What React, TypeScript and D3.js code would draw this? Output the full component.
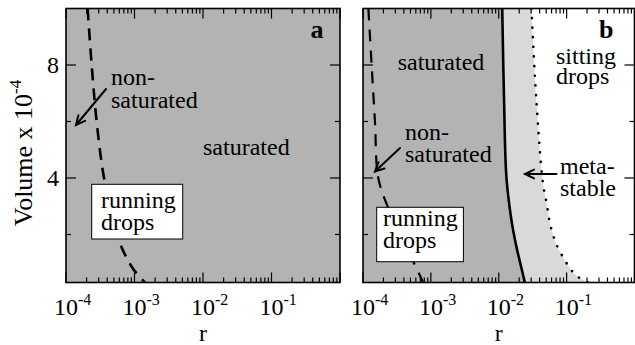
import * as d3 from 'd3'

// ---- data (r on log axis, volume x 1e-4) ----
const decades = [1e-4, 1e-3, 1e-2, 1e-1, 1]
const decadeExp = [-4, -3, -2, -1]
const minorMult = [2, 3, 4, 5, 6, 7, 8, 9]
const yMajor = [4, 8]
const yMinor = [2, 6]

// panel a: non-saturated boundary (dashed)
const aDashV = [10, 8, 6, 4, 2, 0.86, 0.3]
const aDashR = [2.07e-4, 2.37e-4, 2.8e-4, 3.59e-4, 5.5e-4, 9.1e-4, 1.42e-3]

// panel b: non-saturated boundary (dashed)
const bDashV = [10, 8, 6, 4, 2.93, 2, 1.04, 0.3]
const bDashR = [1.2e-4, 1.34e-4, 1.5e-4, 1.68e-4, 2.36e-4, 3.55e-4, 5.5e-4, 7.7e-4]

// panel b: saturated / metastable boundary (solid)
const bSolidV = [10, 6.76, 4, 2.51, 1.57, 0.42, 0.3]
const bSolidR = [0.01125, 0.01197, 0.013, 0.01538, 0.0182, 0.0236, 0.0241]

// panel b: metastable / sitting drops boundary (dotted)
const bDotV = [10, 6.76, 3.82, 3.04, 2.33, 1.66, 1.04, 0.74, 0.5, 0.3]
const bDotR = [0.0303, 0.0358, 0.0448, 0.0513, 0.0575, 0.0706, 0.0967, 0.117, 0.147, 0.205]

const W = 635, H = 345
const TOP = 8.5, BOTTOM = 282.5
const FONT = "'Liberation Serif', 'DejaVu Serif', 'Times New Roman', serif"
const DARK = '#b3b3b3'
const LIGHT = '#d9d9d9'

type Pt = [number, number]
const zip = (r: number[], v: number[]): Pt[] => r.map((d, i) => [d, v[i]])

function Arrow({ x1, y1, x2, y2 }: { x1: number; y1: number; x2: number; y2: number }) {
  const a = Math.atan2(y2 - y1, x2 - x1)
  const L = 10, s = 0.45
  const p1 = [x2 - L * Math.cos(a - s), y2 - L * Math.sin(a - s)]
  const p2 = [x2 - L * Math.cos(a + s), y2 - L * Math.sin(a + s)]
  return (
    <g stroke="#000" strokeWidth={2} fill="none" strokeLinecap="round">
      <line x1={x1} y1={y1} x2={x2} y2={y2} />
      <polyline points={`${p1[0]},${p1[1]} ${x2},${y2} ${p2[0]},${p2[1]}`} />
    </g>
  )
}

function Panel({ id, left, right, children, fills }: {
  id: string; left: number; right: number
  children: (x: d3.ScaleLogarithmic<number, number>, y: d3.ScaleLinear<number, number>) => any
  fills: (x: d3.ScaleLogarithmic<number, number>, y: d3.ScaleLinear<number, number>) => any
}) {
  const x = d3.scaleLog().domain([1e-4, 1]).range([left, right])
  const y = d3.scaleLinear().domain([0.3, 10]).range([BOTTOM, TOP])
  const minors = decades.slice(0, 4).flatMap(d => minorMult.map(m => d * m))
  return (
    <g>
      <defs>
        <clipPath id={`clip-${id}`}>
          <rect x={left} y={TOP} width={right - left} height={BOTTOM - TOP} />
        </clipPath>
      </defs>
      <g clipPath={`url(#clip-${id})`}>
        {fills(x, y)}
        {children(x, y)}
      </g>
      <g stroke="#000" strokeWidth={1.2}>
        {decades.map(d => (
          <g key={d}>
            <line x1={x(d)} x2={x(d)} y1={BOTTOM} y2={BOTTOM - 10} />
            <line x1={x(d)} x2={x(d)} y1={TOP} y2={TOP + 10} />
          </g>
        ))}
        {minors.map(d => (
          <g key={d}>
            <line x1={x(d)} x2={x(d)} y1={BOTTOM} y2={BOTTOM - 5} />
            <line x1={x(d)} x2={x(d)} y1={TOP} y2={TOP + 5} />
          </g>
        ))}
        {yMajor.map(v => (
          <g key={v}>
            <line x1={left} x2={left + 10} y1={y(v)} y2={y(v)} />
            <line x1={right} x2={right - 10} y1={y(v)} y2={y(v)} />
          </g>
        ))}
        {yMinor.map(v => (
          <g key={v}>
            <line x1={left} x2={left + 5} y1={y(v)} y2={y(v)} />
            <line x1={right} x2={right - 5} y1={y(v)} y2={y(v)} />
          </g>
        ))}
      </g>
      <rect x={left} y={TOP} width={right - left} height={BOTTOM - TOP} fill="none" stroke="#000" strokeWidth={1.6} />
      {decadeExp.map(e => (
        <text key={e} x={x(Math.pow(10, e)) - 12} y={315} fontSize={24}>
          10<tspan dy={-10} fontSize={16}>{`-${-e}`}</tspan>
        </text>
      ))}
      <text x={(left + right) / 2} y={341} fontSize={24} textAnchor="middle">r</text>
    </g>
  )
}

export default function App() {
  const line = (x: any, y: any) =>
    d3.line<Pt>().x(d => x(d[0])).y(d => y(d[1])).curve(d3.curveCatmullRom)
  const yAxis = d3.scaleLinear().domain([0.3, 10]).range([BOTTOM, TOP])

  return (
    <svg width={W} height={H}
      style={{ position: 'absolute', left: 0, top: 0, background: '#fff', fontFamily: FONT }}>
      {/* panel a */}
      <Panel id="a" left={66} right={340}
        fills={(x) => <rect x={x.range()[0]} y={TOP} width={x.range()[1] - x.range()[0]} height={BOTTOM - TOP} fill={DARK} />}>
        {(x, y) => (
          <path d={line(x, y)(zip(aDashR, aDashV)) ?? ''} fill="none" stroke="#000"
            strokeWidth={2.6} strokeDasharray="12,8" />
        )}
      </Panel>
      {yMajor.map(v => (
        <text key={v} x={59} y={yAxis(v) + 8} fontSize={24} textAnchor="end">{v}</text>
      ))}
      <text transform="translate(32,153) rotate(-90)" fontSize={26} textAnchor="middle">
        Volume x 10<tspan dy={-11} fontSize={17}>-4</tspan>
      </text>
      <text x={323.5} y={38} fontSize={26} fontWeight="bold" textAnchor="end">a</text>
      <text fontSize={24}>
        <tspan x={111} y={85}>non-</tspan>
        <tspan x={111} y={108}>saturated</tspan>
      </text>
      <Arrow x1={106} y1={89} x2={76} y2={125} />
      <text x={203} y={155} fontSize={24}>saturated</text>
      <rect x={91.7} y={184.3} width={91} height={54.7} fill="#fff" stroke="#000" strokeWidth={1} />
      <text fontSize={24}>
        <tspan x={101} y={208}>running</tspan>
        <tspan x={101} y={230}>drops</tspan>
      </text>

      {/* panel b */}
      <Panel id="b" left={363} right={634.5}
        fills={(x, y) => {
          const l = x.range()[0]
          const r = x.range()[1]
          const solid = line(x, y)(zip(bSolidR, bSolidV)) ?? ''
          const dotRev = (line(x, y)(zip(bDotR, bDotV).reverse()) ?? '').replace(/^M/, 'L')
          return (
            <g>
              <rect x={l} y={TOP} width={r - l} height={BOTTOM - TOP} fill="#fff" />
              <path d={solid + dotRev + 'Z'} fill={LIGHT} />
              <path d={`${solid}L${l},${BOTTOM}L${l},${TOP}Z`} fill={DARK} />
            </g>
          )
        }}>
        {(x, y) => (
          <g fill="none" stroke="#000">
            <path d={line(x, y)(zip(bDashR, bDashV)) ?? ''} strokeWidth={2.2} strokeDasharray="12,9" />
            <path d={line(x, y)(zip(bSolidR, bSolidV)) ?? ''} strokeWidth={2.6} />
            <path d={line(x, y)(zip(bDotR, bDotV)) ?? ''} strokeWidth={2.6} strokeDasharray="0.1,9.5" strokeLinecap="round" />
          </g>
        )}
      </Panel>
      <text x={613.5} y={38} fontSize={26} fontWeight="bold" textAnchor="end">b</text>
      <text x={397.7} y={70} fontSize={24}>saturated</text>
      <text fontSize={24}>
        <tspan x={556} y={64}>sitting</tspan>
        <tspan x={556} y={84}>drops</tspan>
      </text>
      <text fontSize={24}>
        <tspan x={405} y={140}>non-</tspan>
        <tspan x={405} y={162}>saturated</tspan>
      </text>
      <Arrow x1={400} y1={148} x2={375} y2={171.5} />
      <text fontSize={24}>
        <tspan x={560} y={174}>meta-</tspan>
        <tspan x={560} y={196}>stable</tspan>
      </text>
      <Arrow x1={556.5} y1={174} x2={525} y2={174} />
      <rect x={376.7} y={207.3} width={86.7} height={54.4} fill="#fff" stroke="#000" strokeWidth={1} />
      <text fontSize={24}>
        <tspan x={383} y={226}>running</tspan>
        <tspan x={383} y={248}>drops</tspan>
      </text>
    </svg>
  )
}
